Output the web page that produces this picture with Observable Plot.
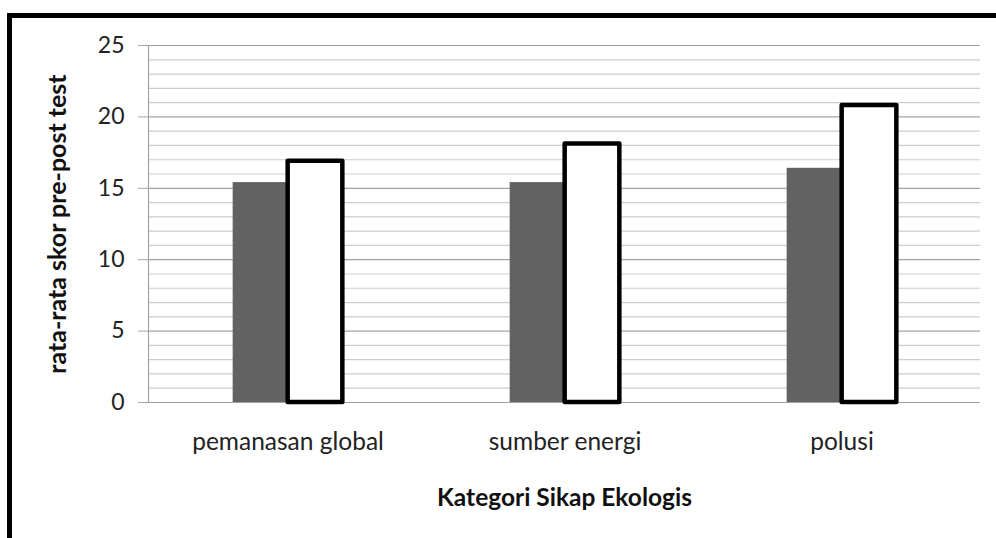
<!DOCTYPE html>
<html>
<head>
<meta charset="utf-8">
<script src="https://cdn.jsdelivr.net/npm/d3@7"></script>
<script src="https://cdn.jsdelivr.net/npm/@observablehq/plot@0.6"></script>
<style>
  html, body { margin: 0; padding: 0; background: #fff; }
  #wrap { position: relative; width: 996px; height: 538px; overflow: hidden; }
  #border { position: absolute; left: 7px; top: 13px; width: 1100px; height: 600px;
            border-left: 5px solid #000; border-top: 5px solid #000; pointer-events: none; }
  svg { font-family: Lato, "Open Sans", sans-serif; }
</style>
</head>
<body>
<div id="wrap"><div id="border"></div></div>
<script>
const categories = ["pemanasan global", "sumber energi", "polusi"];
const seriesNames = ["pre test", "post test"];
const preValues = [15.4, 15.4, 16.4];
const postValues = [16.9, 18.1, 20.8];
const yTicks = [0, 5, 10, 15, 20, 25];
const minorGrid = [1, 2, 3, 4, 6, 7, 8, 9, 11, 12, 13, 14, 16, 17, 18, 19, 21, 22, 23, 24];
const yTitle = "rata-rata skor pre-post test";
const xTitle = "Kategori Sikap Ekologis";

const preData = categories.map((c, i) => ({category: c, series: seriesNames[0], value: preValues[i]}));
const postData = categories.map((c, i) => ({category: c, series: seriesNames[1], value: postValues[i]}));

const W = 996, H = 538, mL = 148, mR = 16, mT = 45, mB = 136;
const bw = (W - mL - mR) / categories.length;
const barW = 55;

const chart = Plot.plot({
  width: W,
  height: H,
  marginTop: mT,
  marginBottom: mB,
  marginLeft: mL,
  marginRight: mR,
  style: {background: "transparent"},
  x: {domain: categories, padding: 0},
  y: {domain: [0, 25]},
  marks: [
    Plot.ruleY(minorGrid, {stroke: "#cdcdcd", strokeWidth: 1.2}),
    Plot.ruleY(yTicks, {stroke: "#a3a3a3", strokeWidth: 1.2}),
    Plot.frame({anchor: "left", stroke: "#a3a3a3", strokeWidth: 1.2}),
    Plot.barY(preData, {x: "category", y: "value", fill: "#626262",
      insetLeft: bw / 2 - barW, insetRight: bw / 2}),
    Plot.barY(postData, {x: "category", y: "value", fill: "#ffffff", stroke: "#000",
      strokeWidth: 4.5, strokeLinejoin: "round",
      insetLeft: bw / 2, insetRight: bw / 2 - barW}),
    Plot.axisY({ticks: yTicks, tickSize: 10, tickPadding: 14, stroke: "#a3a3a3",
      fontSize: 23, fill: "#222",
      label: yTitle, labelAnchor: "center", labelOffset: 100, labelArrow: "none"}),
    Plot.axisX({tickSize: 0, tickPadding: 30, fontSize: 24.5, fill: "#222",
      label: xTitle, labelAnchor: "center", labelOffset: 103, labelArrow: "none"})
  ]
});
document.getElementById("wrap").insertBefore(chart, document.getElementById("border"));

// bold axis titles
chart.querySelectorAll("g[aria-label='y-axis label'] text").forEach(t => {
  t.setAttribute("font-weight", "bold");
  t.setAttribute("font-size", "25");
  t.setAttribute("fill", "#111");
});
chart.querySelectorAll("g[aria-label='x-axis label'] text").forEach(t => {
  t.setAttribute("font-weight", "bold");
  t.setAttribute("font-size", "24.5");
  t.setAttribute("fill", "#111");
});
</script>
</body>
</html>
